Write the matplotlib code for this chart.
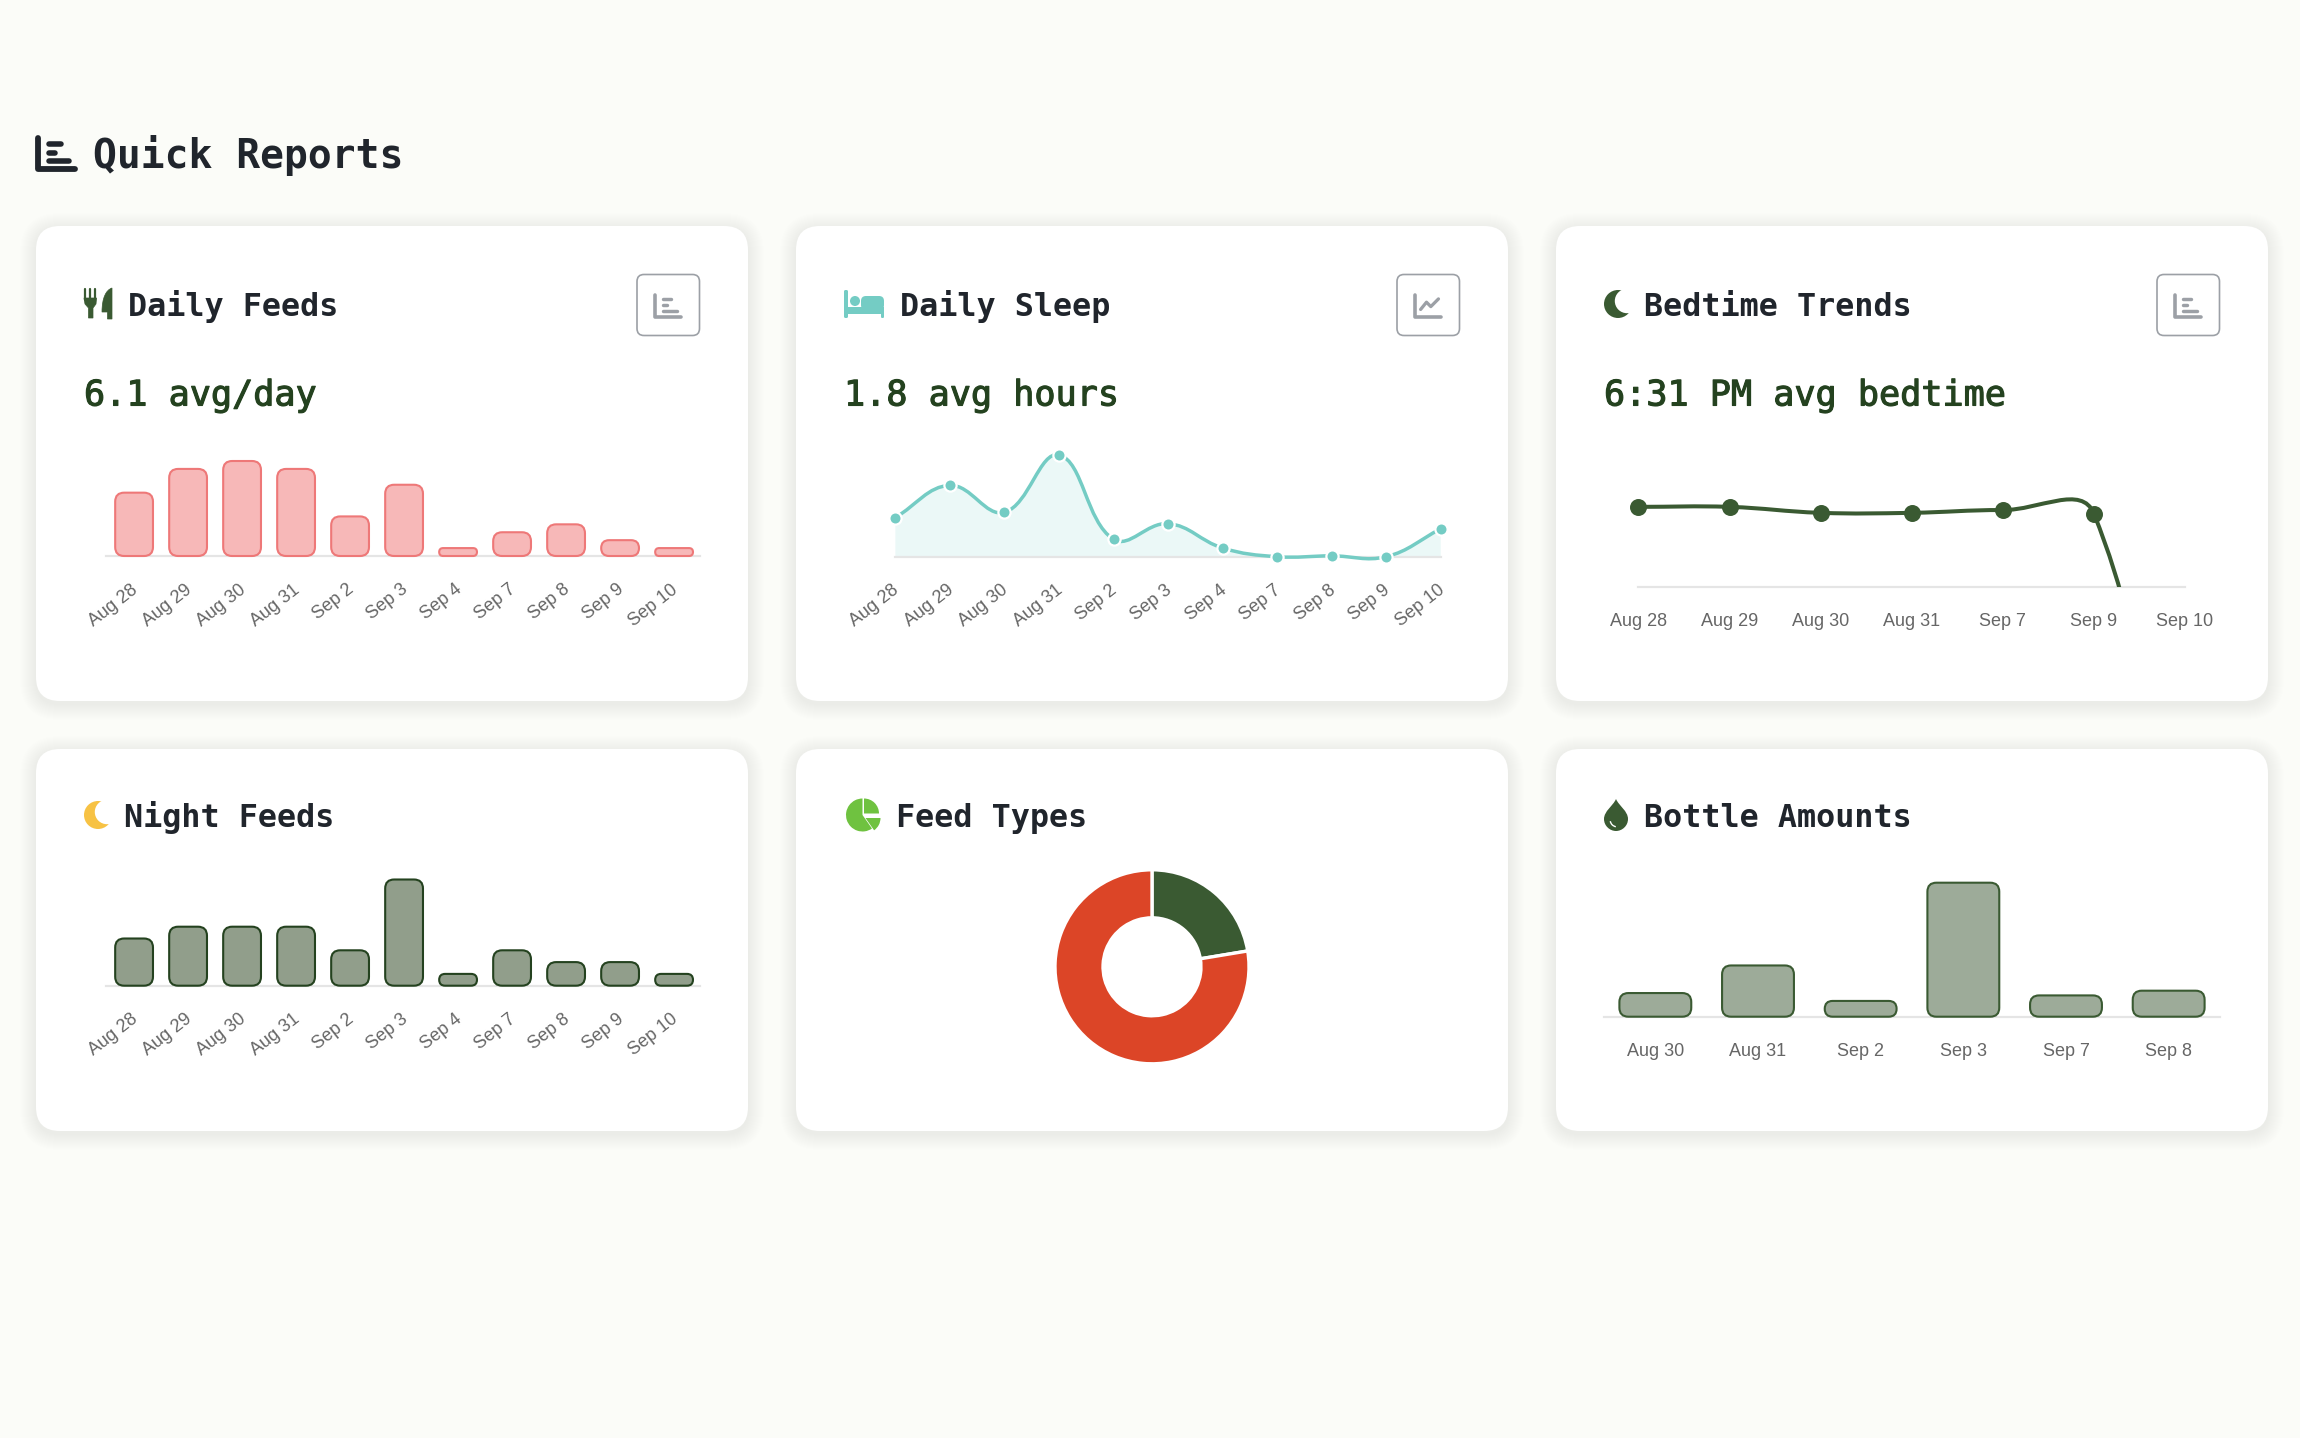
import matplotlib
matplotlib.use("Agg")
import numpy as np
import matplotlib.pyplot as plt
import matplotlib.patheffects as pe
from matplotlib.patches import FancyBboxPatch, Circle, Wedge, PathPatch, Polygon
from matplotlib.path import Path
from matplotlib.transforms import ScaledTranslation

W, H = 2300, 1438

# data
feed_days = ["Aug 28", "Aug 29", "Aug 30", "Aug 31", "Sep 2", "Sep 3", "Sep 4", "Sep 7", "Sep 8", "Sep 9", "Sep 10"]
daily_feeds = [8, 11, 12, 11, 5, 9, 1, 3, 4, 2, 1]
sleep_hours = [2.25, 4.1, 2.55, 5.85, 1.0, 1.9, 0.5, 0.0, 0.05, 0.0, 1.6]
night_feeds = [4, 5, 5, 5, 3, 9, 1, 3, 2, 2, 1]
bedtime_days = ["Aug 28", "Aug 29", "Aug 30", "Aug 31", "Sep 7", "Sep 9", "Sep 10"]
bedtime_hours = [21.75, 21.75, 21.47, 21.47, 21.6, 21.43, 0.2]
feed_type_counts = [15, 52]
bottle_days = ["Aug 30", "Aug 31", "Sep 2", "Sep 3", "Sep 7", "Sep 8"]
bottle_amounts = [3, 6.5, 2, 17, 2.7, 3.3]

# colours
BG = "#FBFCF8"
INK = "#20252C"
DARK_GREEN = "#24421F"
GREEN = "#3A5A32"
TEAL = "#74CCC4"
GREY = "#9CA0A6"
TICK = "#666666"
MONO = "DejaVu Sans Mono"

fig = plt.figure(figsize=(W / 100, H / 100), dpi=100, facecolor=BG)
bg = fig.add_axes([0, 0, 1, 1])
bg.set_xlim(0, W)
bg.set_ylim(H, 0)
bg.axis("off")


def round_box(x0, y0, x1, y1, r, **kw):
    p = FancyBboxPatch((x0, y0), x1 - x0, y1 - y0, boxstyle=f"round,pad=0,rounding_size={r}", **kw)
    bg.add_patch(p)
    return p


def card(x0, y0, x1, y1):
    # soft shadow, then the white card
    for g in range(1, 17):
        round_box(x0 - g, y0 - g + 3, x1 + g, y1 + g + 3, 24 + g, fc="black", ec="none", alpha=0.002)
    round_box(x0, y0, x1, y1, 24, fc="white", ec="none")


def line(xs, ys, color, lw, **kw):
    bg.plot(xs, ys, color=color, lw=lw, solid_capstyle="round", solid_joinstyle="round", **kw)


def bars_icon(x0, y0, x1, y1, color, lw):
    w, h = x1 - x0, y1 - y0
    line([x0, x0, x1], [y0, y1, y1], color, lw)
    for fy, fx in [(0.2, 0.62), (0.48, 0.47), (0.75, 0.85)]:
        line([x0 + 0.3 * w, x0 + fx * w], [y0 + fy * h, y0 + fy * h], color, lw * 0.95)


def chart_icon(x0, y0, x1, y1, color, lw):
    w, h = x1 - x0, y1 - y0
    line([x0, x0, x1], [y0, y1, y1], color, lw)
    line([x0 + 0.22 * w, x0 + 0.45 * w, x0 + 0.62 * w, x0 + 0.92 * w],
         [y0 + 0.68 * h, y0 + 0.35 * h, y0 + 0.55 * h, y0 + 0.2 * h], color, lw * 0.9)


def button(x0, y0, x1, y1, kind):
    round_box(x0, y0, x1, y1, 7, fc="white", ec=GREY, lw=1.2)
    if kind == "bars":
        bars_icon(x0 + 18, y0 + 20, x1 - 19, y1 - 19, GREY, 2.6)
    else:
        chart_icon(x0 + 18, y0 + 20, x1 - 19, y1 - 19, GREY, 2.6)


def fork_knife(x, y, c):
    for dx in (1, 6, 11):
        line([x + dx, x + dx], [y + 1, y + 12], c, 1.6)
    bg.add_patch(Polygon([(x, y + 10), (x + 12.5, y + 10), (x + 12, y + 16), (x + 9, y + 20),
                          (x + 9, y + 30), (x + 4.5, y + 30), (x + 4.5, y + 20), (x + 1, y + 16)],
                         closed=True, fc=c, ec=c, lw=0.5))
    knife = Path([(x + 28, y), (x + 22, y + 2), (x + 18, y + 10), (x + 18, y + 24), (x + 23.5, y + 24),
                  (x + 23.5, y + 31), (x + 28, y + 31), (x + 28, y)],
                 [Path.MOVETO, Path.CURVE4, Path.CURVE4, Path.CURVE4, Path.LINETO, Path.LINETO, Path.LINETO, Path.CLOSEPOLY])
    bg.add_patch(PathPatch(knife, fc=c, ec=c, lw=0.5))


def bed(x, y, c):
    bg.add_patch(FancyBboxPatch((x, y), 4, 28, boxstyle="round,pad=0,rounding_size=1.5", fc=c, ec="none"))
    bg.add_patch(Circle((x + 11, y + 11), 5, fc=c, ec="none"))
    bg.add_patch(FancyBboxPatch((x + 17, y + 6), 23, 14, boxstyle="round,pad=0,rounding_size=5", fc=c, ec="none"))
    bg.add_patch(Polygon([(x, y + 17), (x + 40, y + 17), (x + 40, y + 24), (x, y + 24)], closed=True, fc=c, ec="none"))
    bg.add_patch(FancyBboxPatch((x + 37, y + 20), 3, 8, boxstyle="round,pad=0,rounding_size=1.2", fc=c, ec="none"))


def moon(x, y, c):
    bg.add_patch(Circle((x + 14, y + 14), 14, fc=c, ec="none"))
    bg.add_patch(Circle((x + 23, y + 11), 12.2, fc="white", ec="none"))


def pie_icon(cx, cy, c):
    bg.add_patch(Wedge((cx, cy), 16.5, -305, -90, fc=c, ec="none"))
    bg.add_patch(Wedge((cx + 1.5, cy - 1.5), 15, -90, 0, fc=c, ec="none"))
    bg.add_patch(Wedge((cx + 3, cy + 3), 15, 0, 55, fc=c, ec="none"))


def drop(cx, y0, c):
    r = 12
    verts = [(cx, y0), (cx + 3, y0 + 7), (cx + r, y0 + 12), (cx + r, y0 + 20),
             (cx + r, y0 + 27), (cx + 6, y0 + 32), (cx, y0 + 32),
             (cx - 6, y0 + 32), (cx - r, y0 + 27), (cx - r, y0 + 20),
             (cx - r, y0 + 12), (cx - 3, y0 + 7), (cx, y0)]
    codes = [Path.MOVETO] + [Path.CURVE4] * 12
    bg.add_patch(PathPatch(Path(verts, codes), fc=c, ec="none"))
    bg.add_patch(Wedge((cx + 1, y0 + 21), 7.5, 100, 170, width=1.4, fc="white", ec="none"))


def title(x, base, s):
    bg.text(x, base, s, family=MONO, weight="bold", fontsize=22.9, color=INK, va="baseline", ha="left")


def subtitle(x, base, s):
    bg.text(x, base, s, family=MONO, weight="normal", fontsize=25.3, color=DARK_GREEN, va="baseline", ha="left",
            path_effects=[pe.withStroke(linewidth=0.8, foreground=DARK_GREEN)])


def chart_axes(x0, x1, ytop, ybot):
    ax = fig.add_axes([x0 / W, 1 - ybot / H, (x1 - x0) / W, (ybot - ytop) / H])
    ax.patch.set_visible(False)
    for s in ("top", "left", "right"):
        ax.spines[s].set_visible(False)
    ax.spines["bottom"].set_color("#E5E5E5")
    ax.spines["bottom"].set_linewidth(1.6)
    ax.set_yticks([])
    ax.tick_params(axis="x", length=0, colors=TICK)
    return ax


def set_labels(ax, labels, rotated, pad):
    ax.set_xticks(range(len(labels)))
    ax.tick_params(axis="x", pad=pad)
    if rotated:
        ax.set_xticklabels(labels, rotation=38, ha="right", va="top", rotation_mode="anchor",
                           family="Liberation Sans", fontsize=13, color=TICK)
        shift = ScaledTranslation(-3.5 / 100, 0, fig.dpi_scale_trans)
        for t in ax.get_xticklabels():
            t.set_transform(t.get_transform() + shift)
    else:
        ax.set_xticklabels(labels, family="Liberation Sans", fontsize=13, color=TICK)


def rounded_bars(ax, values, radius, fc, ec):
    box = ax.get_window_extent()
    x0, x1 = ax.get_xlim()
    y0, y1 = ax.get_ylim()
    xpx = box.width / (x1 - x0)
    ypx = box.height / (y1 - y0)
    w = 0.7
    for i, v in enumerate(values):
        r = min(radius, v * ypx / 2, w * xpx / 2)
        ax.add_patch(FancyBboxPatch((i - w / 2, 0), w, v,
                                    boxstyle=f"round,pad=0,rounding_size={r / xpx}",
                                    mutation_aspect=xpx / ypx, fc=fc, ec=ec, lw=1.5,
                                    clip_on=False, zorder=3))


def spline(ax, xs, ys, t=0.4):
    # same control points as a chart.js line with tension 0.4, worked out in pixels
    pts = ax.transData.transform(np.column_stack([xs, ys]))
    verts = [pts[0]]
    n = len(pts)
    before, after = [], []
    for i in range(n):
        prev = pts[max(i - 1, 0)]
        cur = pts[i]
        nxt = pts[min(i + 1, n - 1)]
        d01 = np.hypot(*(cur - prev))
        d12 = np.hypot(*(nxt - cur))
        total = d01 + d12
        fa = t * d01 / total
        fb = t * d12 / total
        before.append(cur - fa * (nxt - prev))
        after.append(cur + fb * (nxt - prev))
    for i in range(n - 1):
        verts += [after[i], before[i + 1], pts[i + 1]]
    verts = ax.transData.inverted().transform(np.array(verts))
    return verts


def curve_path(verts):
    return Path(verts, [Path.MOVETO] + [Path.CURVE4] * (len(verts) - 1))


# page background and heading
bars_icon(38, 138, 75, 169, INK, 4.2)
bg.text(93, 168, "Quick Reports", family=MONO, weight="bold", fontsize=28.5, color=INK, va="baseline", ha="left")

for x0 in (36, 796, 1556):
    card(x0, 226, x0 + 712, 701)
    card(x0, 749, x0 + 712, 1131)

# top row headings
fork_knife(84, 288, GREEN)
title(128, 316, "Daily Feeds")
subtitle(84, 405.5, "6.1 avg/day")
button(637, 274.5, 699.5, 335.5, "bars")

bed(844, 290, TEAL)
title(900.5, 316, "Daily Sleep")
subtitle(844, 405.5, "1.8 avg hours")
button(1397, 274.5, 1459.5, 335.5, "line")

moon(1604, 290, GREEN)
title(1644, 316, "Bedtime Trends")
subtitle(1604, 405.5, "6:31 PM avg bedtime")
button(2157, 274.5, 2219.5, 335.5, "bars")

# bottom row headings
moon(84, 801, "#F7C244")
title(124, 827, "Night Feeds")
pie_icon(862.5, 815, "#6FC240")
title(896, 827, "Feed Types")
drop(1616, 799, GREEN)
title(1644, 827, "Bottle Amounts")

# Daily Feeds
ax = chart_axes(106, 700, 461, 556)
ax.set_xlim(-0.52, 10.48)
ax.set_ylim(0, 12)
rounded_bars(ax, daily_feeds, 9, "#F7B8B8", "#EE7878")
set_labels(ax, feed_days, True, 18)

# Daily Sleep
ax = chart_axes(895.4, 1440.7, 452.3, 556.7)
ax.set_xlim(0, 10)
ax.set_ylim(0, 6)
xs = np.arange(len(sleep_hours))
verts = spline(ax, xs, sleep_hours)
ax.add_patch(PathPatch(Path(np.vstack([verts, [[xs[-1], 0], [xs[0], 0], [xs[0], sleep_hours[0]]]]),
                            [Path.MOVETO] + [Path.CURVE4] * (len(verts) - 1) + [Path.LINETO] * 3),
                       fc="#EBF8F7", ec="none", zorder=1))
ax.add_patch(PathPatch(curve_path(verts), fc="none", ec=TEAL, lw=2.5, clip_on=False, zorder=4))
ax.plot(xs, sleep_hours, ls="none", marker="o", ms=8.8, mfc=TEAL, mec="white", mew=1.6, clip_on=False, zorder=5)
set_labels(ax, feed_days, True, 18)

# Bedtime Trends
ax = chart_axes(1638.4, 2185, 490.9, 586.7)
ax.set_xlim(0, 6)
ax.set_ylim(18, 22.5)
xs = np.arange(len(bedtime_hours))
ax.add_patch(PathPatch(curve_path(spline(ax, xs, bedtime_hours)), fc="none", ec=GREEN, lw=2.9, zorder=4))
# the Sep 10 point sits far below the axis, so only the on-scale ones show
on_scale = np.array(bedtime_hours) >= 18
ax.plot(xs[on_scale], np.array(bedtime_hours)[on_scale], ls="none", marker="o", ms=11.2, color=GREEN,
        clip_on=False, zorder=5)
set_labels(ax, bedtime_days, False, 18.6)

# Night Feeds
ax = chart_axes(106, 700, 879.5, 985.7)
ax.set_xlim(-0.52, 10.48)
ax.set_ylim(0, 9)
rounded_bars(ax, night_feeds, 9, "#919E8B", DARK_GREEN)
set_labels(ax, feed_days, True, 18)

# Feed Types
ax = fig.add_axes([(1152 - 97) / W, 1 - (966.8 + 97) / H, 194 / W, 194 / H])
ax.pie(feed_type_counts, colors=[GREEN, "#DC4527"], startangle=90, counterclock=False, radius=1,
       wedgeprops=dict(width=0.495, edgecolor="white", linewidth=2.4))
ax.set_xlim(-1, 1)
ax.set_ylim(-1, 1)

# Bottle Amounts
ax = chart_axes(1604, 2220, 882.7, 1016.7)
ax.set_xlim(-0.5, 5.5)
ax.set_ylim(0, 17)
rounded_bars(ax, bottle_amounts, 9, "#9DAB99", GREEN)
set_labels(ax, bottle_days, False, 19)

fig.savefig("out.png", dpi=100, facecolor=BG)
